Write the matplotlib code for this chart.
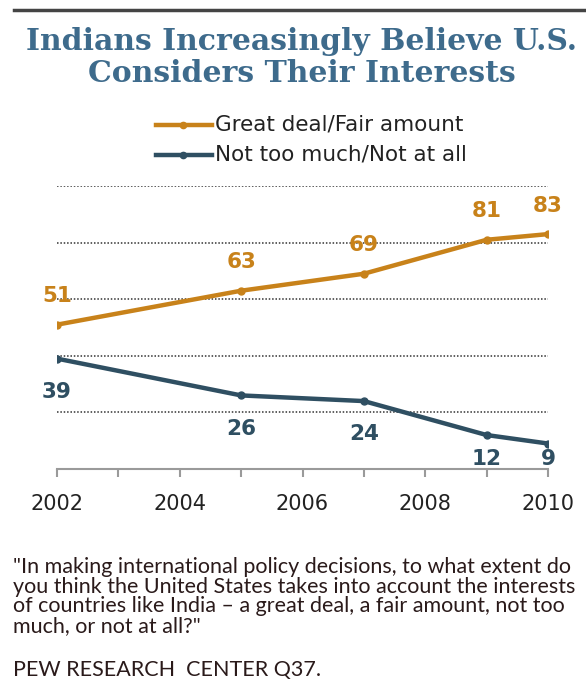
import matplotlib.pyplot as plt
from matplotlib.lines import Line2D

# DATA
YEARS = [2002, 2005, 2007, 2009, 2010]
GREAT_DEAL = [51, 63, 69, 81, 83]
NOT_MUCH = [39, 26, 24, 12, 9]
XTICKS = list(range(2002, 2011))
XLABELS = ["2002", "", "2004", "", "2006", "", "2008", "", "2010"]
SERIES_NAMES = ["Great deal/Fair amount", "Not too much/Not at all"]

ORANGE = "#C8821A"
NAVY = "#2F4F62"
TITLE_BLUE = "#3E6B8C"
GRAY = "#9A9A9A"

fig = plt.figure(figsize=(5.86, 6.9), dpi=100)
ax = fig.add_axes([57/586, 1 - 469/690, (548-57)/586, (469-186)/690])

ax.plot(YEARS, GREAT_DEAL, color=ORANGE, lw=3.2, marker="o", ms=5,
        solid_capstyle="round", zorder=3)
ax.plot(YEARS, NOT_MUCH, color=NAVY, lw=3.2, marker="o", ms=5,
        solid_capstyle="round", zorder=3)

for x, v in zip(YEARS, GREAT_DEAL):
    ax.text(x, v + 10, str(v), color=ORANGE, fontsize=15.5, fontweight="bold",
            ha="center", va="center", zorder=4)
for x, v in zip(YEARS, NOT_MUCH):
    ax.text(x, max(v - 11.7, 3.6), str(v), color=NAVY, fontsize=15.5,
            fontweight="bold", ha="center", va="center", zorder=4)

# dotted grid
for g in [20, 40, 60, 80, 100]:
    ax.axhline(g, color="#333333", lw=1.1, ls=(0, (1, 1.2)), zorder=1)

ax.set_xlim(2002, 2010)
ax.set_ylim(0, 100)
ax.set_xticks(XTICKS)
ax.set_xticklabels(XLABELS, fontsize=15, color="#222222")
ax.set_yticks([])
for s in ["left", "right", "top"]:
    ax.spines[s].set_visible(False)
ax.spines["bottom"].set_color(GRAY)
ax.spines["bottom"].set_linewidth(1.5)
ax.spines["bottom"].set_clip_on(False)
ax.tick_params(axis="x", length=6, width=1.5, color=GRAY, pad=12)

# top rule
fig.add_artist(Line2D([14/586, 1], [1 - 10/690, 1 - 10/690], color="#444444", lw=2.5))

fig.text(0.515, 1 - 41/690, "Indians Increasingly Believe U.S.", ha="center", va="center",
         fontsize=21.5, fontweight="bold", family="DejaVu Serif", color=TITLE_BLUE)
fig.text(0.515, 1 - 73/690, "Considers Their Interests", ha="center", va="center",
         fontsize=21.5, fontweight="bold", family="DejaVu Serif", color=TITLE_BLUE)

# legend
for i, (name, col) in enumerate(zip(SERIES_NAMES, [ORANGE, NAVY])):
    y = 1 - (125 + 30*i)/690
    fig.add_artist(Line2D([156/586, 212/586], [y, y], color=col, lw=3.2))
    fig.add_artist(Line2D([183/586], [y], color=col, marker="o", ms=4.5))
    fig.text(215/586, y, name, ha="left", va="center", fontsize=15.5, color="#222222")

note = ('"In making international policy decisions, to what extent do\n'
        'you think the United States takes into account the interests\n'
        'of countries like India \u2013 a great deal, a fair amount, not too\n'
        'much, or not at all?"')
fig.text(13/586, 1 - 557/690, note, ha="left", va="top", fontsize=15.5,
         family="Lato", color="#2a1a1a", linespacing=0.98)
fig.text(13/586, 1 - 670/690, "PEW RESEARCH  CENTER Q37.", ha="left", va="center",
         fontsize=15.5, family="Lato", color="#2a1a1a")

fig.savefig("out.png", dpi=100)
